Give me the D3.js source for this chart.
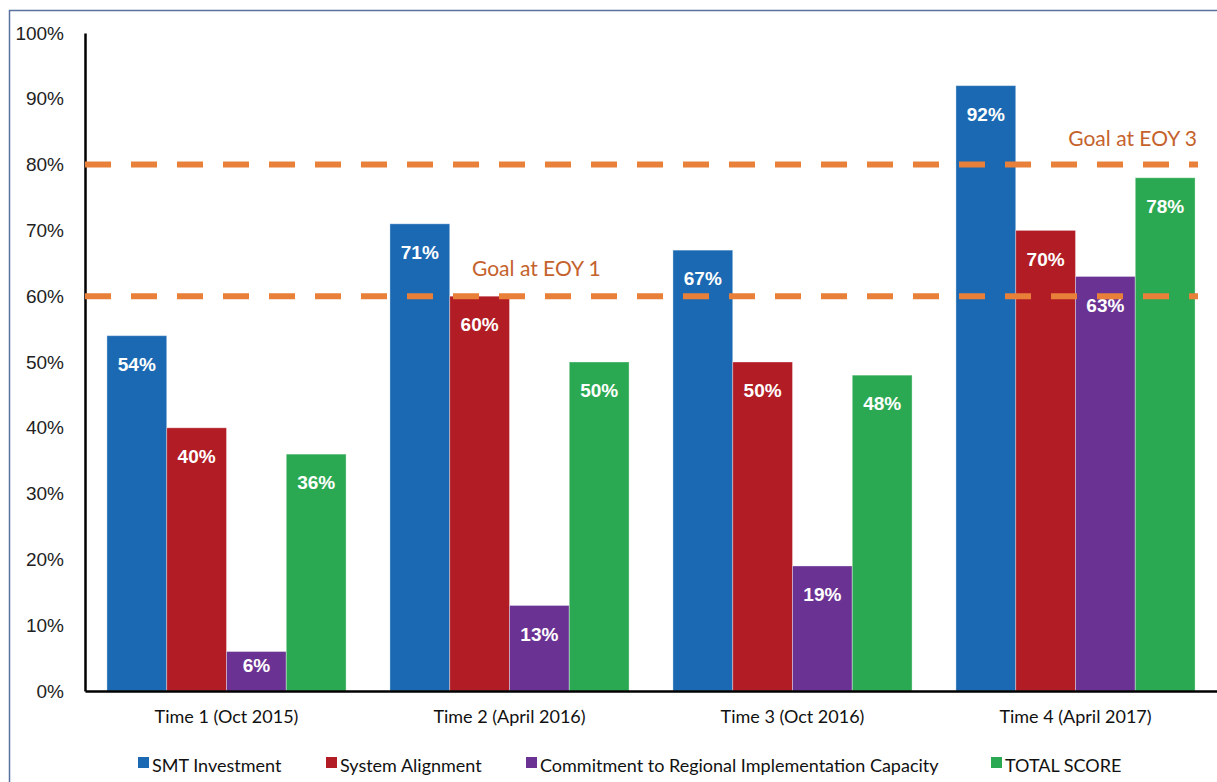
<!DOCTYPE html>
<html><head><meta charset="utf-8">
<script src="https://cdn.jsdelivr.net/npm/d3@7/dist/d3.min.js"></script>
<style>body{margin:0;background:#fff;overflow:hidden}</style>
</head><body><svg id="c" width="1217" height="782"></svg>
<script>
const categories = ["Time 1 (Oct 2015)", "Time 2 (April 2016)", "Time 3 (Oct 2016)", "Time 4 (April 2017)"];
const seriesNames = ["SMT Investment", "System Alignment", "Commitment to Regional Implementation Capacity", "TOTAL SCORE"];
const smtInvestment = [54, 71, 67, 92];
const systemAlignment = [40, 60, 50, 70];
const commitmentCapacity = [6, 13, 19, 63];
const totalScore = [36, 50, 48, 78];
const goalValues = [80, 60];
const goalLabels = ["Goal at EOY 3", "Goal at EOY 1"];
const yTicks = [0, 10, 20, 30, 40, 50, 60, 70, 80, 90, 100];
const colors = ["#1B69B2", "#B21C24", "#6A3292", "#2BA952"];

const seriesValues = [smtInvestment, systemAlignment, commitmentCapacity, totalScore];
const svg = d3.select("#c");
const font = "'Liberation Sans', Arial, sans-serif";
const font2 = "Lato, 'Liberation Sans', sans-serif";

// outer border
svg.append("rect").attr("x", 9.5).attr("y", 10.5).attr("width", 1400).attr("height", 1000)
  .attr("fill", "none").attr("stroke", "#5a72a0").attr("stroke-width", 1.5);

const plotLeft = 85, plotRight = 1217, plotTop = 33, plotBottom = 691;
const x0 = d3.scaleBand().domain(categories).range([plotLeft, plotRight]).paddingInner(0.155).paddingOuter(0.0775);
const x1 = d3.scaleBand().domain(d3.range(seriesNames.length)).range([0, x0.bandwidth()]);
const y = d3.scaleLinear().domain([0, 100]).range([plotBottom, plotTop]);

// bars
const groups = svg.append("g").selectAll("g").data(categories).join("g")
  .attr("transform", d => `translate(${x0(d)},0)`);
groups.each(function(cat, ci) {
  const g = d3.select(this);
  seriesValues.forEach((vals, si) => {
    const v = vals[ci];
    g.append("rect").attr("x", x1(si)).attr("y", y(v)).attr("width", x1.bandwidth()).attr("height", y(0) - y(v))
      .attr("fill", colors[si]).attr("stroke", "rgba(255,255,255,0.35)").attr("stroke-width", 1);
  });
});

// y axis
const yAxis = svg.append("g").attr("transform", `translate(${plotLeft},0)`)
  .call(d3.axisLeft(y).tickValues(yTicks).tickSize(0).tickPadding(21).tickFormat(d => d + "%"));
yAxis.select(".domain").attr("stroke", "#000").attr("stroke-width", 2.5);
yAxis.selectAll("text").attr("font-family", font).attr("font-size", 19).attr("fill", "#222");

// x axis
const xAxis = svg.append("g").attr("transform", `translate(0,${plotBottom})`)
  .call(d3.axisBottom(x0).tickSize(0).tickPadding(19));
xAxis.select(".domain").attr("stroke", "#000").attr("stroke-width", 2.5);
xAxis.selectAll("text").attr("font-family", font2).attr("font-size", 18).attr("fill", "#111");

// goal lines
goalValues.forEach((gv) => {
  svg.append("line").attr("x1", plotLeft).attr("x2", 1198).attr("y1", y(gv)).attr("y2", y(gv))
    .attr("stroke", "#E8803A").attr("stroke-width", 6).attr("stroke-dasharray", "26,20");
});
svg.append("text").attr("x", 1197).attr("y", y(goalValues[0]) - 19).attr("text-anchor", "end")
  .attr("font-family", font2).attr("font-size", 21).attr("fill", "#C5622C").text(goalLabels[0]);
svg.append("text").attr("x", 472).attr("y", y(goalValues[1]) - 20).attr("text-anchor", "start")
  .attr("font-family", font2).attr("font-size", 21).attr("fill", "#C5622C").text(goalLabels[1]);

// value labels
groups.each(function(cat, ci) {
  const g = d3.select(this);
  seriesValues.forEach((vals, si) => {
    const v = vals[ci];
    const h = y(0) - y(v);
    const off = Math.min(28.5, h / 2 - 6);
    g.append("text").attr("x", x1(si) + x1.bandwidth() / 2).attr("y", y(v) + off)
      .attr("dy", "0.35em").attr("text-anchor", "middle")
      .attr("font-family", font).attr("font-weight", "bold").attr("font-size", 19).attr("fill", "#fff")
      .text(v + "%");
  });
});

// legend
const legendX = [138, 326, 526, 991];
const lg = svg.append("g");
seriesNames.forEach((n, i) => {
  lg.append("rect").attr("x", legendX[i]).attr("y", 757).attr("width", 11).attr("height", 11).attr("fill", colors[i]);
  lg.append("text").attr("x", legendX[i] + 14).attr("y", 772).attr("font-family", font2).attr("font-size", 18)
    .attr("fill", "#111").text(n);
});
</script></body></html>
